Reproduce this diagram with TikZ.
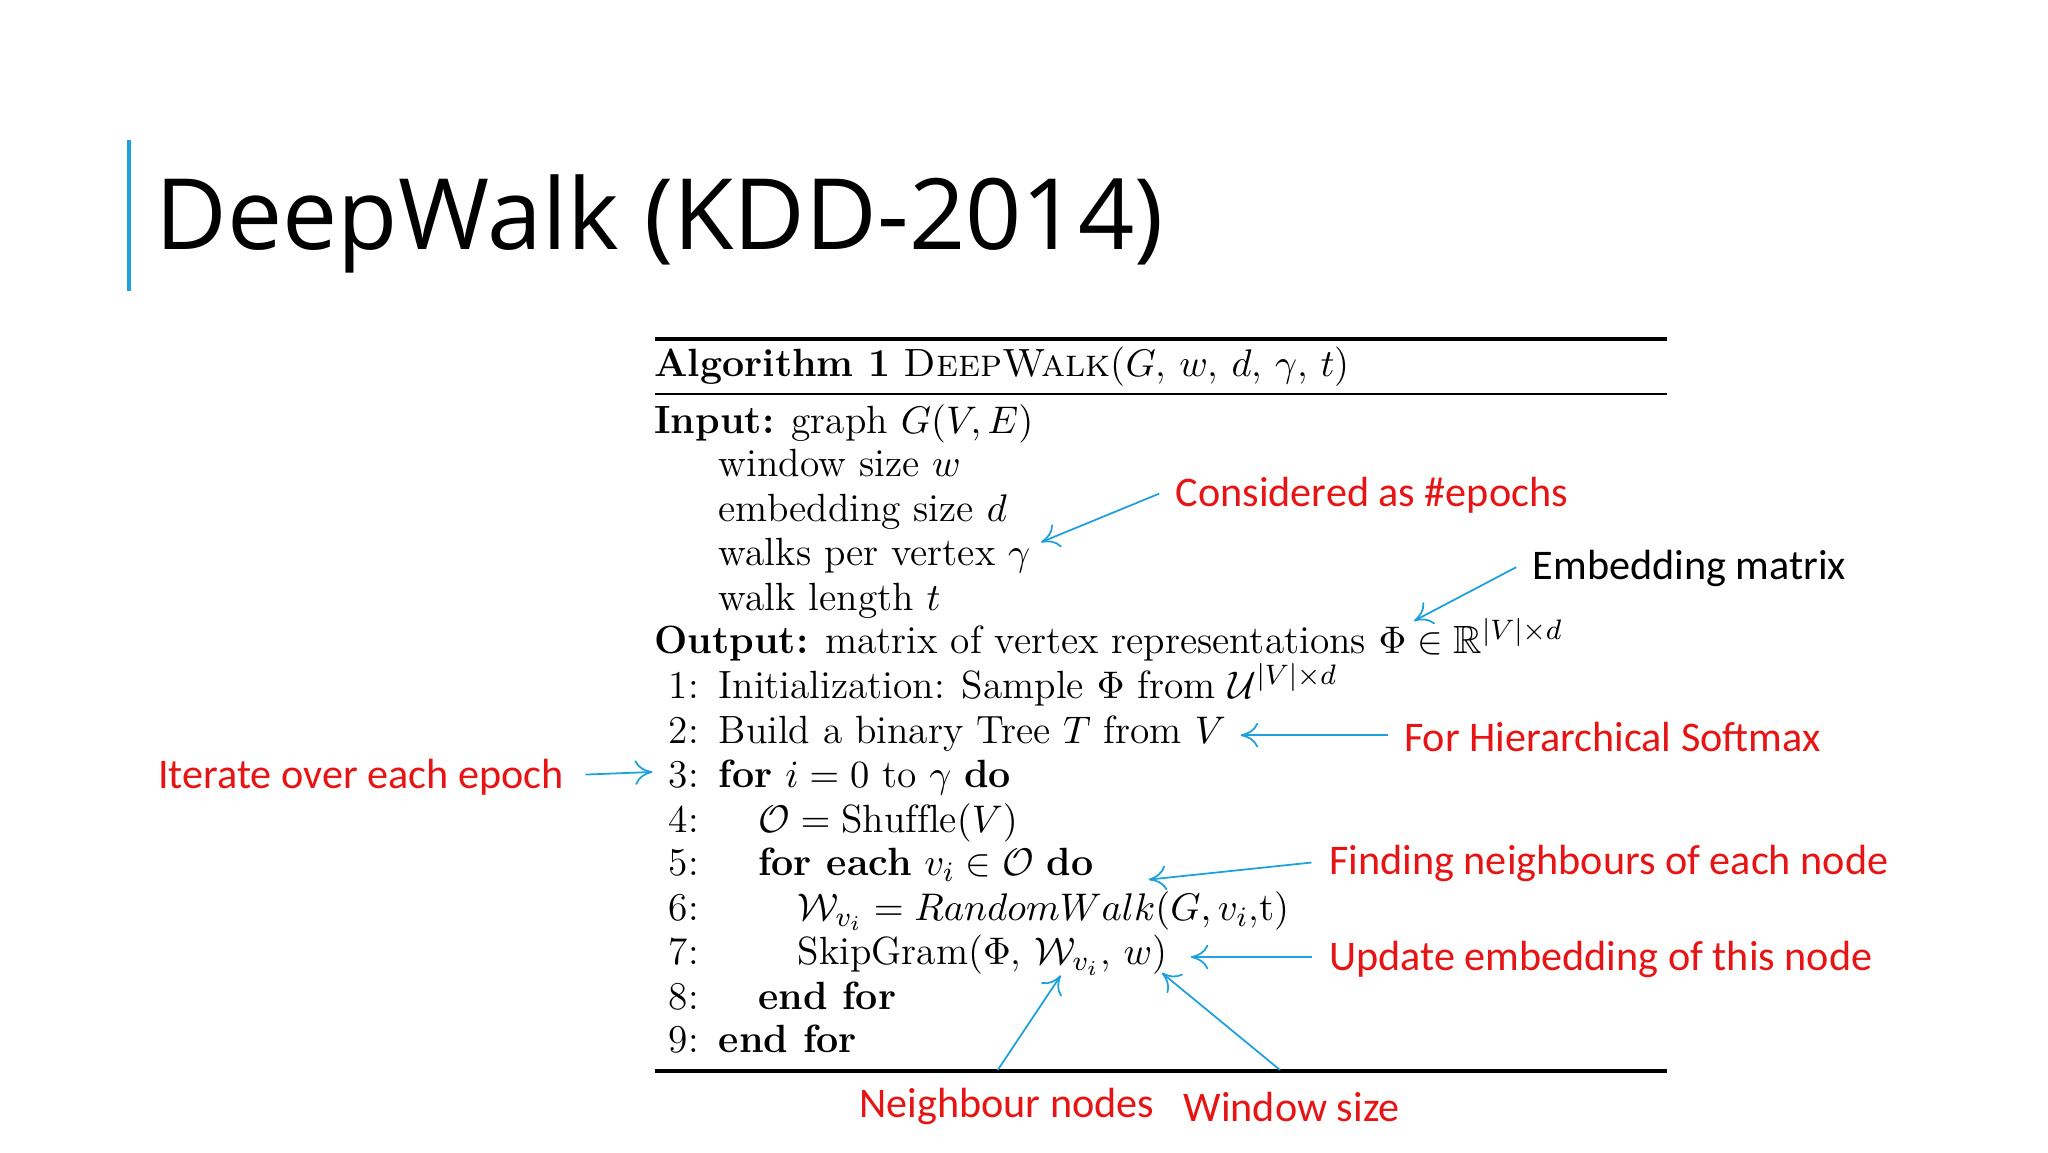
\documentclass[tikz,border=0pt]{standalone}
\usepackage{amsmath,amssymb}
\usepackage{fontspec}
\usetikzlibrary{arrows.meta}
\newfontfamily\titlefont{Open Sans}
\newfontfamily\annfont{Carlito}
\definecolor{ann}{RGB}{230,20,20}
\definecolor{arr}{RGB}{30,160,220}
\begin{document}
\begin{tikzpicture}[x=0.013128cm,y=-0.013128cm,
  alg/.style={anchor=base west,inner sep=0pt,font=\fontsize{11.2}{13}\selectfont},
  red/.style={anchor=west,inner sep=0pt,text=ann,font=\annfont\fontsize{12}{14}\selectfont},
  blk/.style={anchor=west,inner sep=0pt,text=black,font=\annfont\fontsize{12}{14}\selectfont},
  pt/.style={arr,line width=0.5pt,-{To[length=5pt,width=7pt]}}]
\useasboundingbox (0,0) rectangle (1560,877.5);
\fill[white] (0,0) rectangle (1560,877.5);
\draw[arr,line width=1.2pt] (98,107) -- (98,222);
\node[anchor=base west,inner sep=0pt,font=\titlefont\fontsize{28}{32}\selectfont] (title) at (118,190) {DeepWalk (KDD-2014)};
% rules
\draw[line width=1.2pt] (499,258) -- (1270,258);
\draw[line width=0.6pt] (499,300) -- (1270,300);
\draw[line width=1.2pt] (499,816) -- (1270,816);
\node[alg] (h) at (498,287) {\textbf{Algorithm 1} \textsc{DeepWalk}($G$, $w$, $d$, $\gamma$, $t$)};
\node[alg] (in) at (498,330) {\textbf{Input:} graph $G(V,E)$};
\node[alg] (l1) at (547,363) {window size $w$};
\node[alg] (l2) at (547,397) {embedding size $d$};
\node[alg] (l3) at (547,431) {walks per vertex $\gamma$};
\node[alg] (l4) at (547,465) {walk length $t$};
\node[alg] (out) at (498,498) {\textbf{Output:} matrix of vertex representations $\Phi\in\mathbb{R}^{|V|\times d}$};
\foreach \n/\y in {1/532,2/566,3/600,4/634,5/667,6/701,7/735,8/769,9/802}
  \node[alg] (n\n) at (509,\y) {\n:};
\node[alg] (s1) at (547,532) {Initialization: Sample $\Phi$ from $\mathcal{U}^{|V|\times d}$};
\node[alg] (s2) at (547,566) {Build a binary Tree $T$ from $V$};
\node[alg] (s3) at (547,600) {\textbf{for} $i=0$ to $\gamma$ \textbf{do}};
\node[alg] (s4) at (577,634) {$\mathcal{O}=\mathrm{Shuffle}(V)$};
\node[alg] (s5) at (577,667) {\textbf{for each} $v_i\in\mathcal{O}$ \textbf{do}};
\node[alg] (s6) at (607,701) {$\mathcal{W}_{v_i}=RandomWalk(G,v_i$,t$)$};
\node[alg] (s7) at (607,735) {SkipGram($\Phi$, $\mathcal{W}_{v_i}$, $w$)};
\node[alg] (s8) at (577,769) {\textbf{end for}};
\node[alg] (s9) at (547,802) {\textbf{end for}};
% annotations
\node[red] (a1) at (895,377) {Considered as \#epochs};
\node[blk] (a2) at (1167,433) {Embedding matrix};
\node[red] (a3) at (1069,561) {For Hierarchical Softmax};
\node[red] (a4) at (120,592) {Iterate over each epoch};
\node[red] (a5) at (1012,658) {Finding neighbours of each node};
\node[red] (a6) at (1012,731) {Update embedding of this node};
\node[red] (a7) at (654,843) {Neighbour nodes};
\node[red] (a8) at (901,843) {Window size};
\coordinate (e1) at (793,413);
\coordinate (e2) at (1077,473);
\coordinate (e3) at (945,560);
\coordinate (e4) at (497,588);
\coordinate (e5) at (875,670);
\coordinate (e6) at (907,729);
\coordinate (e7) at (808,743);
\coordinate (e8) at (885,741);
\coordinate (b1) at (883,376);
\coordinate (b2) at (1155,432);
\coordinate (b3) at (1057,560);
\coordinate (b4) at (446,590);
\coordinate (b5) at (999,657);
\coordinate (b6) at (999,729);
\coordinate (b7) at (760,815);
\coordinate (b8) at (975,815);
\foreach \i in {1,...,8} \draw[pt] (b\i) -- (e\i);
\end{tikzpicture}
\end{document}
